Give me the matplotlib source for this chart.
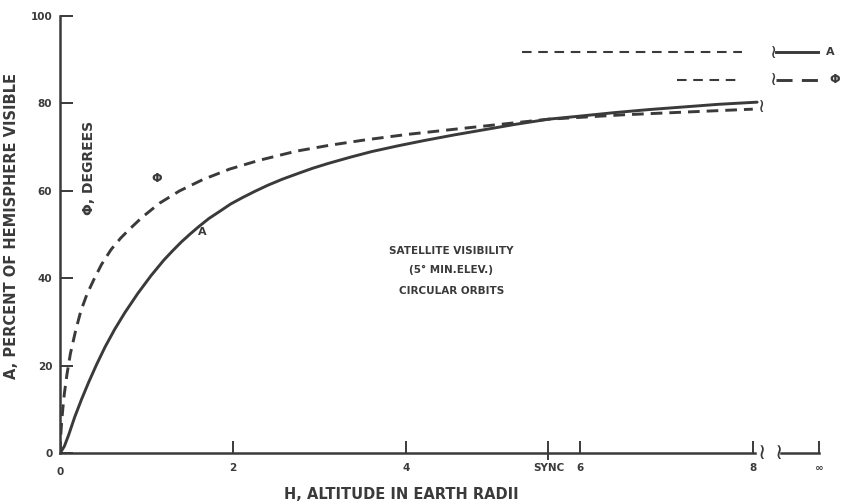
import numpy as np
import matplotlib.pyplot as plt

# altitude H in earth radii, visible hemisphere A (%) and central angle PHI (deg)
h_a = [0, 0.05, 0.1, 0.17, 0.25, 0.33, 0.42, 0.52, 0.63, 0.75, 0.9, 1.05, 1.2, 1.3,
       1.4, 1.5, 1.6, 1.72, 1.85, 1.97, 2.1, 2.25, 2.4, 2.57, 2.75, 2.92, 3.1, 3.35,
       3.6, 3.9, 4.2, 4.55, 4.9, 5.25, 5.64, 6.0, 6.4, 6.8, 7.2, 7.6, 8.05]
a_vis = [0, 1.6, 4.2, 8.3, 12.4, 16.2, 20.2, 24.3, 28.3, 32.2, 36.6, 40.6, 44.2, 46.3,
         48.3, 50.1, 51.8, 53.7, 55.4, 57.0, 58.4, 59.9, 61.3, 62.7, 64.0, 65.2, 66.3, 67.7,
         69.0, 70.3, 71.5, 72.8, 74.0, 75.2, 76.4, 77.1, 77.9, 78.6, 79.2, 79.8, 80.3]

h_phi = [0, 0.01, 0.02, 0.035, 0.05, 0.08, 0.12, 0.18, 0.24, 0.31, 0.39, 0.48, 0.59, 0.7,
         0.8, 0.95, 1.15, 1.38, 1.65, 1.96, 2.3, 2.73, 3.1, 3.5, 4.0, 4.6, 5.64, 6.5, 7.3, 8.0]
phi_deg = [0, 4.5, 7.4, 10.7, 13.6, 18.0, 22.8, 28.0, 32.5, 36.3, 39.7, 43.2, 46.6, 49.2,
           51.2, 54.0, 57.2, 60.0, 62.6, 65.0, 67.0, 69.1, 70.4, 71.6, 72.9, 74.2, 76.4,
           77.4, 78.1, 78.7]

# values at infinite altitude
a_inf = 91.7
phi_inf = 85.4

h_sync = 5.64
h_infty = 8.77

xticks = [2, 4, 6, 8, h_infty]
xticklabels = ['2', '4', '6', '8', '\u221e']
yticks = [0, 20, 40, 60, 80, 100]

ink = '#3a3a3a'
plt.rcParams['font.family'] = ['DejaVu Sans']
plt.rcParams['font.weight'] = 'bold'
plt.rcParams['axes.labelweight'] = 'bold'

fig = plt.figure(figsize=(8.43, 5.04), dpi=100)
ax = fig.add_axes([60 / 843, 50.7 / 504, 779.4 / 843, 437.3 / 504])
ax.set_xlim(0, 9.0)
ax.set_ylim(0, 100)

for s in ['top', 'right', 'bottom']:
    ax.spines[s].set_visible(False)
ax.spines['left'].set_color(ink)
ax.spines['left'].set_linewidth(1.8)

# broken x axis
ax.plot([0, 8.02], [0, 0], color=ink, lw=1.8, clip_on=False)
ax.plot([8.33, h_infty], [0, 0], color=ink, lw=1.8, clip_on=False)
for xb in [8.1, 8.3]:
    ax.text(xb, 0, '\u2240', color=ink, fontsize=16, fontweight='normal',
            ha='center', va='center')

ax.set_xticks(xticks, labels=xticklabels)
ax.set_xticks([h_sync], labels=['SYNC'], minor=True)
ax.set_yticks(yticks)
ax.tick_params(axis='both', which='both', direction='in', length=9, width=1.4,
               color=ink, labelcolor=ink, labelsize=7.5)
ax.tick_params(axis='x', which='both', pad=7)
ax.tick_params(axis='y', which='major', pad=5.5)
# the SYNC tick crosses the axis
ax.plot([h_sync, h_sync], [0, -1.4], color=ink, lw=1.4, clip_on=False)
ax.text(0, -3.2, '0', color=ink, fontsize=7.5, ha='center', va='top')

# curves
ax.plot(h_a, a_vis, color=ink, lw=2.1, solid_capstyle='round', solid_joinstyle='round')
ax.plot(h_phi, phi_deg, color=ink, lw=2.1, dashes=(4, 2.4))
ax.text(8.1, 79.4, '\u2240', color=ink, fontsize=14, fontweight='normal',
        ha='center', va='center')

# limits at infinite altitude
ax.plot([5.33, 7.87], [a_inf, a_inf], color=ink, lw=1.5, dashes=(4.6, 3.2))
ax.plot([7.12, 7.87], [phi_inf, phi_inf], color=ink, lw=1.5, dashes=(4.6, 3.2))
for yv in [a_inf, phi_inf]:
    ax.text(8.24, yv, '\u2240', color=ink, fontsize=14, fontweight='normal',
            ha='center', va='center')
ax.plot([8.27, 8.75], [a_inf, a_inf], color=ink, lw=2.1)
ax.plot([8.27, 8.75], [phi_inf, phi_inf], color=ink, lw=2.1, dashes=(5.5, 3.2))
ax.text(8.9, a_inf, 'A', color=ink, fontsize=8, ha='center', va='center')
ax.text(8.95, phi_inf, '\u03a6', color=ink, fontsize=9, ha='center', va='center')

# curve labels
ax.text(1.64, 50.7, 'A', color=ink, fontsize=8, ha='center', va='center')
ax.text(1.12, 62.9, '\u03a6', color=ink, fontsize=9, ha='center', va='center')
ax.text(0.335, 65.2, '\u03a6, DEGREES', color=ink, fontsize=10, rotation=90,
        ha='center', va='center')

ax.text(4.52, 46.3, 'SATELLITE VISIBILITY', color=ink, fontsize=7.5, ha='center', va='center')
ax.text(4.52, 41.9, '(5\u00b0 MIN.ELEV.)', color=ink, fontsize=7.5, ha='center', va='center')
ax.text(4.52, 37.1, 'CIRCULAR ORBITS', color=ink, fontsize=7.5, ha='center', va='center')

ax.set_xlabel('H, ALTITUDE IN EARTH RADII', color=ink, fontsize=10.5)
ax.xaxis.set_label_coords(3.94 / 9.0, -0.077)
ax.set_ylabel('A, PERCENT OF HEMISPHERE VISIBLE', color=ink, fontsize=10.5)
ax.yaxis.set_label_coords(-0.052, 0.52)

fig.savefig('out.png', dpi=100)
